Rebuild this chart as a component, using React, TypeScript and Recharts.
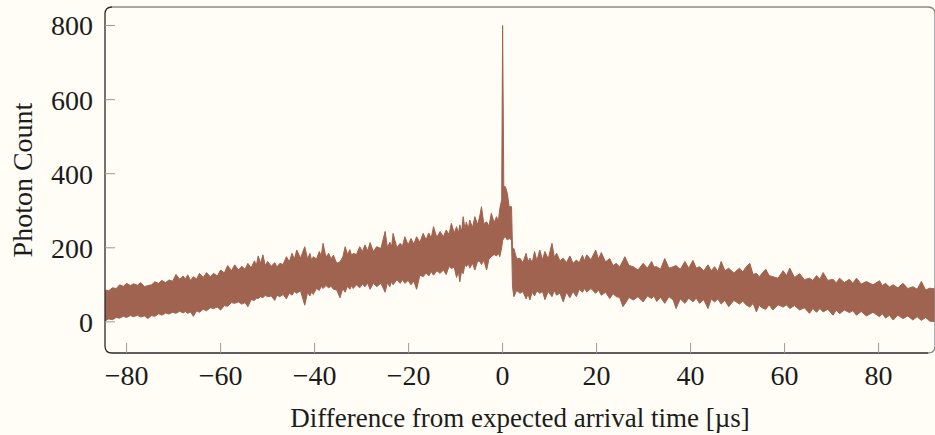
import { Area, ComposedChart, ReferenceArea, XAxis, YAxis } from "recharts"

// time offset in microseconds, with the top and bottom edge of the noisy trace
const timeUs = [
  -84.6, -83.8, -83, -82.2, -81.5, -80.7, -80, -79.2, -78.5, -77.7, -77, -76.2, -75.5, -74.7, -74, -73.2,
  -72.5, -71.7, -71, -70.2, -69.5, -68.7, -68, -67.5, -67, -66.4, -65.8, -65.1, -64.5, -63.7, -63, -62.2,
  -61.5, -60.7, -60, -59.2, -58.5, -57.7, -57, -56.2, -55.5, -54.8, -54.2, -53.5, -52.8, -52.4, -52, -51.5,
  -51, -50.5, -50, -49.2, -48.5, -48, -47.4, -46.7, -46, -45.4, -44.8, -44.3, -43.8, -43, -42.1, -41.5,
  -41, -40.6, -40.3, -39.6, -39, -38.6, -38.2, -37.6, -37, -36.5, -36, -35.3, -34.6, -34, -33.5, -33,
  -32.5, -32.1, -31.8, -31.1, -30.4, -29.8, -29.3, -28.7, -28.2, -27.5, -26.8, -25.9, -25, -24.5, -24, -23.6,
  -23.3, -22.5, -21.8, -21.3, -20.8, -20.1, -19.5, -18.9, -18.3, -17.6, -16.9, -16.3, -15.7, -15.2, -14.7, -14,
  -13.3, -12.6, -12, -11.4, -10.9, -10.3, -9.8, -9.4, -9.1, -8.7, -8.4, -8, -7.7, -7.3, -7, -6.4,
  -5.9, -5.3, -4.8, -4.5, -4, -3.4, -2.9, -2.4, -1.8, -1.3, -0.9, -0.6, -0.2, 0, 0.25, 0.6,
  1, 1.4, 1.9, 2.1, 2.4, 3, 3.7, 4.3, 5, 5.4, 5.8, 6.3, 6.8, 7.3, 7.9, 8.5,
  9, 9.7, 10.5, 11, 11.5, 12.2, 12.9, 13.6, 14.3, 15, 15.7, 16.3, 17, 17.4, 17.9, 18.8,
  19.8, 20.4, 21, 21.9, 22.8, 23.5, 24.2, 24.9, 25.6, 26, 26.9, 27.8, 28.8, 29.9, 30.8, 31.7,
  32.2, 32.8, 33.6, 34.5, 35.4, 36.3, 36.9, 37.8, 38.8, 39.6, 40.5, 41.2, 41.9, 42.8, 43.7, 44.4,
  45.1, 45.8, 46.5, 47.3, 48.1, 49.2, 50.4, 51.1, 51.9, 52.6, 53.3, 54, 54.6, 55.2, 56, 56.7,
  57.5, 58.6, 59.7, 60.4, 61.1, 62.1, 63.2, 64.2, 65.3, 66, 66.8, 67.5, 68.2, 69.2, 70.3, 71,
  71.7, 72.7, 73.8, 74.5, 75.3, 76.3, 77.4, 78.8, 80.2, 80.8, 81.5, 82.3, 83.1, 84.1, 85.2, 86.2,
  87.3, 88.2, 89.1, 90, 90.9, 92,
]

const upperCounts = [
  86, 84, 92, 90, 100, 96, 104, 98, 103, 99, 106, 95, 98, 100, 108, 104,
  112, 106, 113, 110, 128, 115, 124, 116, 127, 112, 122, 116, 131, 120, 133, 122,
  131, 124, 140, 132, 152, 138, 154, 140, 150, 142, 158, 146, 165, 152, 178, 158,
  181, 152, 163, 150, 160, 148, 158, 155, 176, 162, 185, 170, 194, 172, 203, 170,
  185, 165, 176, 170, 190, 178, 212, 175, 185, 170, 180, 158, 162, 175, 203, 182,
  195, 178, 185, 182, 203, 190, 208, 192, 214, 190, 203, 198, 244, 200, 215, 204,
  239, 200, 212, 205, 230, 208, 225, 210, 230, 215, 239, 222, 240, 226, 257, 228,
  244, 230, 248, 236, 266, 240, 257, 240, 262, 245, 284, 252, 270, 250, 275, 255,
  284, 262, 290, 311, 265, 270, 258, 293, 268, 284, 272, 306, 329, 800, 365, 365,
  347, 311, 311, 200, 198, 170, 172, 160, 185, 162, 172, 160, 190, 165, 194, 168,
  190, 170, 212, 175, 185, 165, 172, 160, 178, 158, 167, 160, 180, 165, 181, 168,
  194, 170, 187, 162, 171, 152, 158, 148, 165, 176, 152, 149, 140, 158, 145, 163,
  148, 149, 142, 171, 145, 149, 152, 142, 163, 145, 166, 145, 149, 138, 154, 138,
  149, 136, 163, 138, 145, 132, 145, 135, 150, 158, 128, 131, 122, 131, 142, 125,
  122, 118, 138, 125, 145, 120, 130, 114, 118, 112, 125, 115, 133, 112, 115, 105,
  118, 106, 115, 104, 118, 102, 109, 100, 111, 98, 104, 94, 100, 92, 104, 90,
  95, 88, 109, 86, 91, 89,
]

const lowerCounts = [
  3, 8, 6, 12, 10, 15, 12, 17, 14, 18, 13, 16, 9, 17, 15, 22,
  18, 24, 21, 26, 23, 29, 24, 28, 23, 27, 15, 30, 26, 34, 30, 38,
  36, 40, 32, 44, 42, 52, 50, 54, 48, 52, 41, 60, 58, 64, 63, 68,
  65, 72, 68, 70, 58, 72, 68, 74, 62, 78, 72, 82, 77, 84, 45, 80,
  70, 82, 74, 90, 85, 96, 90, 98, 92, 96, 88, 86, 65, 90, 80, 96,
  88, 98, 90, 100, 92, 102, 95, 104, 88, 104, 95, 104, 80, 106, 95, 110,
  100, 114, 104, 114, 104, 112, 100, 110, 88, 126, 122, 132, 124, 136, 126, 138,
  131, 140, 128, 150, 144, 148, 120, 135, 108, 140, 130, 155, 149, 158, 145, 158,
  140, 165, 162, 155, 166, 140, 170, 176, 182, 178, 185, 176, 200, 220, 225, 230,
  221, 225, 221, 95, 68, 85, 77, 82, 62, 76, 59, 80, 70, 84, 77, 82,
  60, 82, 68, 84, 72, 78, 54, 80, 65, 82, 68, 88, 80, 90, 81, 90,
  77, 86, 72, 80, 63, 76, 68, 66, 41, 48, 66, 59, 68, 54, 70, 63,
  70, 55, 66, 50, 68, 59, 36, 62, 50, 64, 54, 64, 50, 60, 36, 62,
  54, 62, 48, 58, 41, 58, 48, 56, 45, 40, 50, 27, 45, 38, 34, 46,
  32, 46, 40, 46, 36, 44, 32, 38, 23, 36, 26, 36, 27, 34, 18, 32,
  22, 32, 25, 30, 18, 28, 16, 26, 14, 22, 10, 18, 5, 18, 9, 16,
  5, 14, 4, 12, 2, 1,
]

const xTicks = [-80, -60, -40, -20, 0, 20, 40, 60, 80]
const yTicks = [0, 200, 400, 600, 800]

const xDomain = [-84.6, 92]
const yDomain = [-84, 850]

const rows = timeUs.map((t, i) => ({ t, band: [lowerCounts[i], upperCounts[i]] }))

const font = "'Liberation Serif', 'Times New Roman', serif"
const ink = "#1c1c1c"
const traceColor = "#a0634f"
const tickGray = "#9a9a9a"

const fmt = (v: number) => (v < 0 ? `\u2212${-v}` : `${v}`)

function Frame(props: any) {
  const { x, y, width: w, height: h } = props
  const r = 7
  const light = `M${x + r},${y} L${x + w - r},${y} Q${x + w},${y} ${x + w},${y + r} L${x + w},${y + h - r} Q${x + w},${y + h} ${x + w - r},${y + h}`
  const dark = `M${x + w - r},${y + h} L${x + r},${y + h} Q${x},${y + h} ${x},${y + h - r} L${x},${y + r} Q${x},${y} ${x + r},${y}`
  return (
    <g>
      <path d={light} fill="none" stroke="#8a8a8a" strokeWidth={1.3} />
      <path d={dark} fill="none" stroke="#2a2a2a" strokeWidth={1.3} />
    </g>
  )
}

function XLabel(props: any) {
  const vb = props.viewBox
  return (
    <text x={vb.x + vb.width / 2} y={vb.y + 74} textAnchor="middle" fontFamily={font} fontSize={27} fill={ink}>
      Difference from expected arrival time [µs]
    </text>
  )
}

function YLabel(props: any) {
  const vb = props.viewBox
  const cx = 32
  const cy = vb.y + vb.height / 2
  return (
    <text
      x={cx}
      y={cy}
      transform={`rotate(-90 ${cx} ${cy})`}
      textAnchor="middle"
      fontFamily={font}
      fontSize={28}
      fill={ink}
    >
      Photon Count
    </text>
  )
}

export default function App() {
  const tickStyle = { fontFamily: font, fontSize: 28, fill: ink }
  return (
    <div style={{ width: 935, height: 435 }}>
      <style>{"body{margin:0;background:#fffdf5}"}</style>
      <ComposedChart width={935} height={435} data={rows} margin={{ top: 7, right: 0, bottom: 0, left: 0 }}>
        <XAxis
          xAxisId="b"
          dataKey="t"
          type="number"
          domain={xDomain}
          ticks={xTicks}
          tickFormatter={fmt}
          height={82}
          axisLine={false}
          tickLine={{ stroke: tickGray }}
          tickSize={-10}
          tickMargin={22}
          tick={tickStyle}
          label={<XLabel />}
        />
        <XAxis
          xAxisId="top"
          orientation="top"
          dataKey="t"
          type="number"
          domain={xDomain}
          ticks={xTicks}
          height={0}
          axisLine={false}
          tickLine={{ stroke: tickGray }}
          tickSize={-10}
          tick={false}
        />
        <YAxis
          yAxisId="l"
          type="number"
          domain={yDomain}
          ticks={yTicks}
          width={105}
          axisLine={false}
          tickLine={{ stroke: tickGray }}
          tickSize={-10}
          tickMargin={22}
          tick={tickStyle}
          label={<YLabel />}
        />
        <YAxis
          yAxisId="r"
          orientation="right"
          type="number"
          domain={yDomain}
          ticks={yTicks}
          width={0}
          axisLine={false}
          tickLine={{ stroke: tickGray }}
          tickSize={-10}
          tick={false}
        />
        <Area
          xAxisId="b"
          yAxisId="l"
          type="linear"
          dataKey="band"
          stroke={traceColor}
          strokeWidth={1}
          fill={traceColor}
          fillOpacity={1}
          dot={false}
          activeDot={false}
          isAnimationActive={false}
        />
        <ReferenceArea
          xAxisId="b"
          yAxisId="l"
          x1={xDomain[0]}
          x2={xDomain[1]}
          y1={yDomain[0]}
          y2={yDomain[1]}
          ifOverflow="visible"
          shape={<Frame />}
        />
      </ComposedChart>
    </div>
  )
}
